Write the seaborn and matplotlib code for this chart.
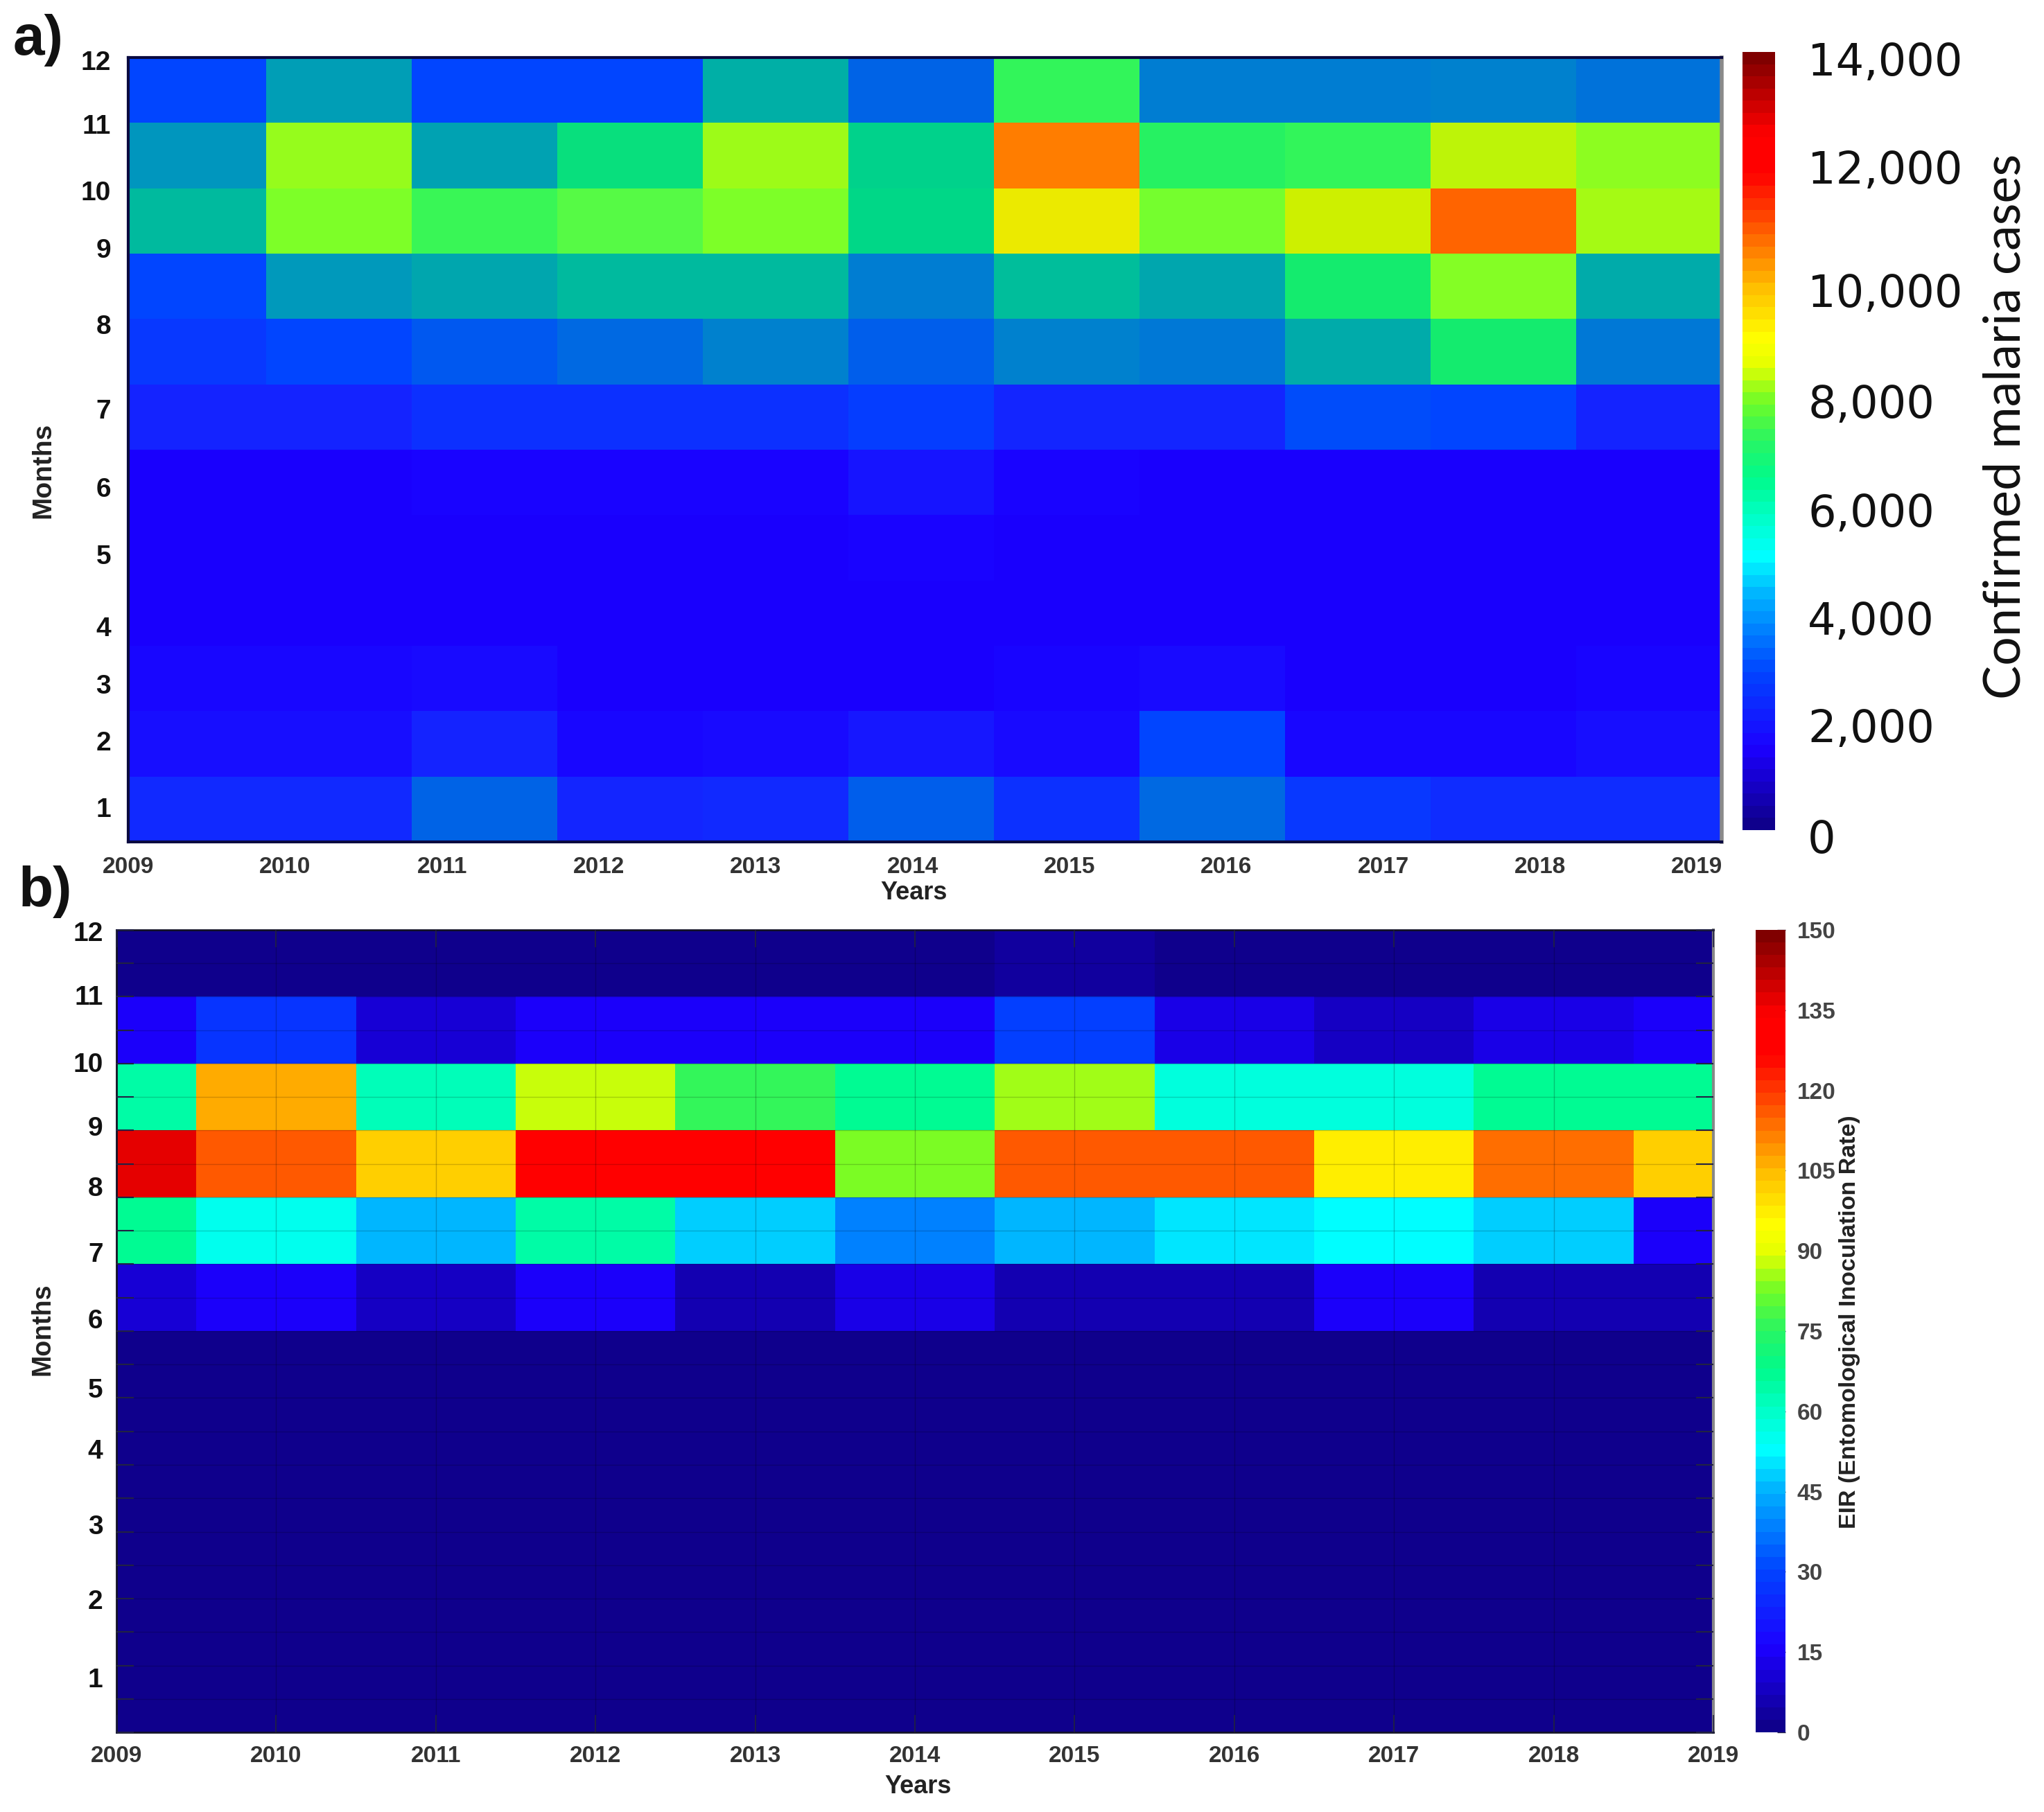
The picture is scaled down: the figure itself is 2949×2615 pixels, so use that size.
"""
Malaria cases and EIR heatmaps by month and year
"""

import numpy as np
import pandas as pd
import matplotlib
matplotlib.use("Agg")
import matplotlib.pyplot as plt
from matplotlib.cm import ScalarMappable
from matplotlib.colors import LinearSegmentedColormap, Normalize
from matplotlib.transforms import ScaledTranslation
import seaborn as sns

# ==================== DATA ====================

years = [2009, 2010, 2011, 2012, 2013, 2014, 2015, 2016, 2017, 2018, 2019]
months = [12, 11, 10, 9, 8, 7, 6, 5, 4, 3, 2, 1]

cases_m12 = [2500, 4200, 2500, 2500, 4600, 3000, 6500, 3500, 3500, 3600, 3300]
cases_m11 = [4000, 7800, 4300, 5700, 7900, 5400, 10800, 6300, 6500, 8300, 7700]
cases_m10 = [4900, 7500, 6600, 7000, 7500, 5500, 9000, 7400, 8500, 11200, 8000]
cases_m9 = [2500, 4100, 4400, 4900, 4900, 3500, 5000, 4400, 6000, 7600, 4500]
cases_m8 = [2300, 2500, 2800, 3100, 3600, 2900, 3600, 3400, 4500, 6000, 3400]
cases_m7 = [2000, 2000, 2200, 2200, 2200, 2400, 2050, 2050, 2600, 2500, 2000]
cases_m6 = [1500, 1500, 1550, 1550, 1550, 1800, 1550, 1500, 1500, 1500, 1500]
cases_m5 = [1500, 1500, 1500, 1500, 1500, 1550, 1500, 1500, 1500, 1500, 1500]
cases_m4 = [1500, 1500, 1500, 1500, 1500, 1500, 1500, 1500, 1500, 1500, 1500]
cases_m3 = [1600, 1600, 1650, 1500, 1500, 1500, 1580, 1650, 1500, 1500, 1580]
cases_m2 = [1700, 1700, 2000, 1600, 1650, 1850, 1650, 2500, 1600, 1600, 1700]
cases_m1 = [2100, 2100, 3000, 2050, 2100, 2900, 2200, 3100, 2300, 2150, 2150]

eir_m12 = [2, 2, 2, 2, 2, 2, 4, 2, 2, 2, 2]
eir_m11 = [15, 27, 10, 15, 15, 15, 30, 12, 9, 12, 15]
eir_m10 = [64, 106, 62, 88, 77, 66, 85, 58, 58, 66, 67]
eir_m9 = [138, 116, 103, 130, 130, 84, 117, 117, 98, 113, 103]
eir_m8 = [66, 54, 46, 65, 48, 39, 46, 51, 52, 49, 16]
eir_m7 = [10, 15, 9, 15, 7, 12, 7, 6, 15, 6, 5]
eir_m6 = [2, 2, 2, 2, 2, 2, 2, 2, 2, 2, 2]
eir_m5 = [2, 2, 2, 2, 2, 2, 2, 2, 2, 2, 2]
eir_m4 = [2, 2, 2, 2, 2, 2, 2, 2, 2, 2, 2]
eir_m3 = [2, 2, 2, 2, 2, 2, 2, 2, 2, 2, 2]
eir_m2 = [2, 2, 2, 2, 2, 2, 2, 2, 2, 2, 2]
eir_m1 = [2, 2, 2, 2, 2, 2, 2, 2, 2, 2, 2]

cases_ticks = [0, 2000, 4000, 6000, 8000, 10000, 12000, 14000]
eir_ticks = [0, 15, 30, 45, 60, 75, 90, 105, 120, 135, 150]

# ==================== LAYOUT (pixels of the 2949x2615 figure) ====================

W, H = 2949, 2615
DPI = 100

AX_A = (185, 83, 2484, 1215)
AX_B = (168, 1342, 2472, 2500)
CB_A = (2514, 75, 2561, 1198)
CB_B = (2533, 1342, 2576, 2500)

# hand-placed labels in the original, row units from the top
month_pos_a = [0.08, 1.06, 2.08, 2.96, 4.12, 5.42, 6.62, 7.64, 8.75, 9.63, 10.49, 11.51]
month_pos_b = [0.06, 1.02, 2.02, 2.97, 3.88, 4.86, 5.85, 6.89, 7.80, 8.93, 10.05, 11.22]
# pasted colorbar labels sit a bit below their true ticks
cases_label_shift = [8, 9, 14, 19, 22, 23, 5, 10]

# ==================== COLORMAPS ====================


def rgb_nodes(nodes):
    return [(pos, (r / 255, g / 255, b / 255)) for pos, (r, g, b) in nodes]


# colorbars show a saturated jet
bar_cmap = LinearSegmentedColormap.from_list("bar_jet", rgb_nodes([
    (0.00, (15, 0, 140)), (0.10, (28, 0, 255)), (0.20, (0, 70, 255)),
    (0.30, (0, 180, 255)), (0.35, (0, 255, 255)), (0.40, (0, 255, 200)),
    (0.45, (0, 250, 140)), (0.50, (40, 245, 100)), (0.55, (110, 252, 40)),
    (0.60, (230, 255, 0)), (0.633, (255, 255, 0)), (0.70, (255, 190, 0)),
    (0.80, (255, 60, 0)), (0.85, (255, 0, 0)), (0.90, (255, 0, 0)),
    (1.00, (128, 0, 0)),
]), N=64)

# panel a cells are more muted than its colorbar
mesh_cmap = LinearSegmentedColormap.from_list("mesh_a", rgb_nodes([
    (0.00, (0, 0, 128)), (0.107, (25, 0, 255)), (0.143, (20, 35, 255)),
    (0.179, (0, 70, 255)), (0.214, (0, 100, 230)), (0.25, (0, 125, 210)),
    (0.286, (0, 150, 190)), (0.32, (0, 170, 170)), (0.357, (0, 190, 155)),
    (0.393, (0, 215, 135)), (0.429, (20, 235, 110)), (0.464, (50, 245, 90)),
    (0.50, (85, 250, 70)), (0.536, (125, 255, 40)), (0.571, (165, 250, 20)),
    (0.607, (205, 240, 0)), (0.643, (235, 235, 0)), (0.771, (255, 125, 0)),
    (0.80, (255, 100, 0)), (0.89, (255, 0, 0)), (1.00, (128, 0, 0)),
]), N=512)

# ==================== HELPERS ====================


def add_axes_px(fig, box):
    x0, y0, x1, y1 = box
    return fig.add_axes([x0 / W, 1 - y1 / H, (x1 - x0) / W, (y1 - y0) / H])


def style_spines(ax, color, width):
    for name, spine in ax.spines.items():
        spine.set_visible(True)
        spine.set_color("#8a8a8a" if name == "right" else color)
        spine.set_linewidth(width + 1 if name == "right" else width)


def set_axis_labels(ax, xlabel_xy, ylabel_xy, ylabel_size):
    ax.set_xlabel("Years", fontsize=26, fontweight="bold", color="#222222")
    ax.set_ylabel("Months", fontsize=ylabel_size, fontweight="bold", color="#222222")
    ax.xaxis.set_label_coords(xlabel_xy[0] / W, 1 - xlabel_xy[1] / H, transform=ax.figure.transFigure)
    ax.yaxis.set_label_coords(ylabel_xy[0] / W, 1 - ylabel_xy[1] / H, transform=ax.figure.transFigure)
    ax.xaxis.label.set_va("center")
    ax.yaxis.label.set_va("center")


# ==================== PANELS ====================


def draw_cases(fig):
    df = pd.DataFrame(
        [cases_m12, cases_m11, cases_m10, cases_m9, cases_m8, cases_m7,
         cases_m6, cases_m5, cases_m4, cases_m3, cases_m2, cases_m1],
        index=months, columns=years,
    )
    ax = add_axes_px(fig, AX_A)
    sns.heatmap(df, ax=ax, cmap=mesh_cmap, vmin=0, vmax=14000, cbar=False)

    # first column is slightly cut in the original
    ax.set_xlim(0.05, 11)
    ax.set_xticks(np.linspace(0.05, 10.83, 11))
    ax.set_xticklabels(years, rotation=0, fontsize=24, fontweight="bold", color="#333333")
    ax.set_yticks(month_pos_a)
    ax.set_yticklabels(months, rotation=0, fontsize=28, fontweight="bold", color="#111111")
    ax.tick_params(axis="x", length=0, pad=15)
    ax.tick_params(axis="y", length=0, pad=18)
    style_spines(ax, "#0a0a40", 3)
    set_axis_labels(ax, (1319, 1288), (62, 679), 28)

    cax = add_axes_px(fig, CB_A)
    cbar = fig.colorbar(ScalarMappable(Normalize(0, 14000), bar_cmap), cax=cax, ticks=cases_ticks)
    cbar.outline.set_visible(False)
    cax.set_yticklabels([f"{t:,}" for t in cases_ticks], fontsize=46, family="DejaVu Sans", color="#111111")
    cax.tick_params(axis="y", length=0, pad=34)
    for label, shift in zip(cax.get_yticklabels(), cases_label_shift):
        label.set_transform(label.get_transform() + ScaledTranslation(0, -shift / DPI, fig.dpi_scale_trans))
    fig.text(2894 / W, 1 - 615 / H, "Confirmed malaria cases", rotation=90, ha="center", va="center",
             fontsize=53, family="Lato", color="#111111")


def draw_eir(fig):
    df = pd.DataFrame(
        [eir_m12, eir_m11, eir_m10, eir_m9, eir_m8, eir_m7,
         eir_m6, eir_m5, eir_m4, eir_m3, eir_m2, eir_m1],
        index=months, columns=years,
    )
    ax = add_axes_px(fig, AX_B)
    cax = add_axes_px(fig, CB_B)
    sns.heatmap(df, ax=ax, cmap=bar_cmap, vmin=0, vmax=150, cbar_ax=cax,
                cbar_kws={"ticks": eir_ticks})

    # first and last year only show half a cell, ticks sit on cell centres
    ax.set_xlim(0.5, 10.5)
    ax.set_xticks(np.arange(len(years)) + 0.5)
    ax.set_xticklabels(years, rotation=0, fontsize=24, fontweight="bold", color="#333333")
    ax.set_yticks(month_pos_b)
    ax.set_yticklabels(months, rotation=0, fontsize=28, fontweight="bold", color="#111111")
    ax.set_yticks(np.arange(0, 12.5, 0.5), minor=True)
    ax.tick_params(axis="x", which="major", direction="in", top=True, bottom=True, length=18,
                   width=1.2, color="#222244", pad=14)
    ax.tick_params(axis="y", which="major", length=0, pad=14)
    ax.tick_params(axis="y", which="minor", direction="in", left=True, right=True, length=18,
                   width=1.5, color="#222244")
    ax.grid(True, which="major", axis="x", color="black", alpha=0.22, linewidth=1)
    ax.grid(True, which="minor", axis="y", color="black", alpha=0.18, linewidth=1)
    ax.set_axisbelow(False)
    style_spines(ax, "#15152a", 2)
    set_axis_labels(ax, (1325, 2578), (62, 1918), 27)

    cax.set_yticklabels(eir_ticks, fontsize=24, fontweight="bold", color="#444444")
    cax.tick_params(axis="y", direction="in", length=9, width=1, color="#222244", pad=12)
    fig.text(2668 / W, 1 - 1908 / H, "EIR (Entomological Inoculation Rate)", rotation=90, ha="center",
             va="center", fontsize=24.5, fontweight="bold", color="#222222")


# ==================== MAIN ====================


def main():
    sns.set_theme(style="white")
    plt.rcParams["font.family"] = ["Liberation Sans", "DejaVu Sans"]

    fig = plt.figure(figsize=(W / DPI, H / DPI), dpi=DPI, facecolor="white")
    draw_cases(fig)
    draw_eir(fig)

    fig.text(19 / W, 1 - 58 / H, "a)", fontsize=59, fontweight="bold", va="center", color="#111111")
    fig.text(27 / W, 1 - 1287 / H, "b)", fontsize=59, fontweight="bold", va="center", color="#111111")

    fig.savefig("out.png", dpi=DPI, facecolor="white")


if __name__ == "__main__":
    main()
